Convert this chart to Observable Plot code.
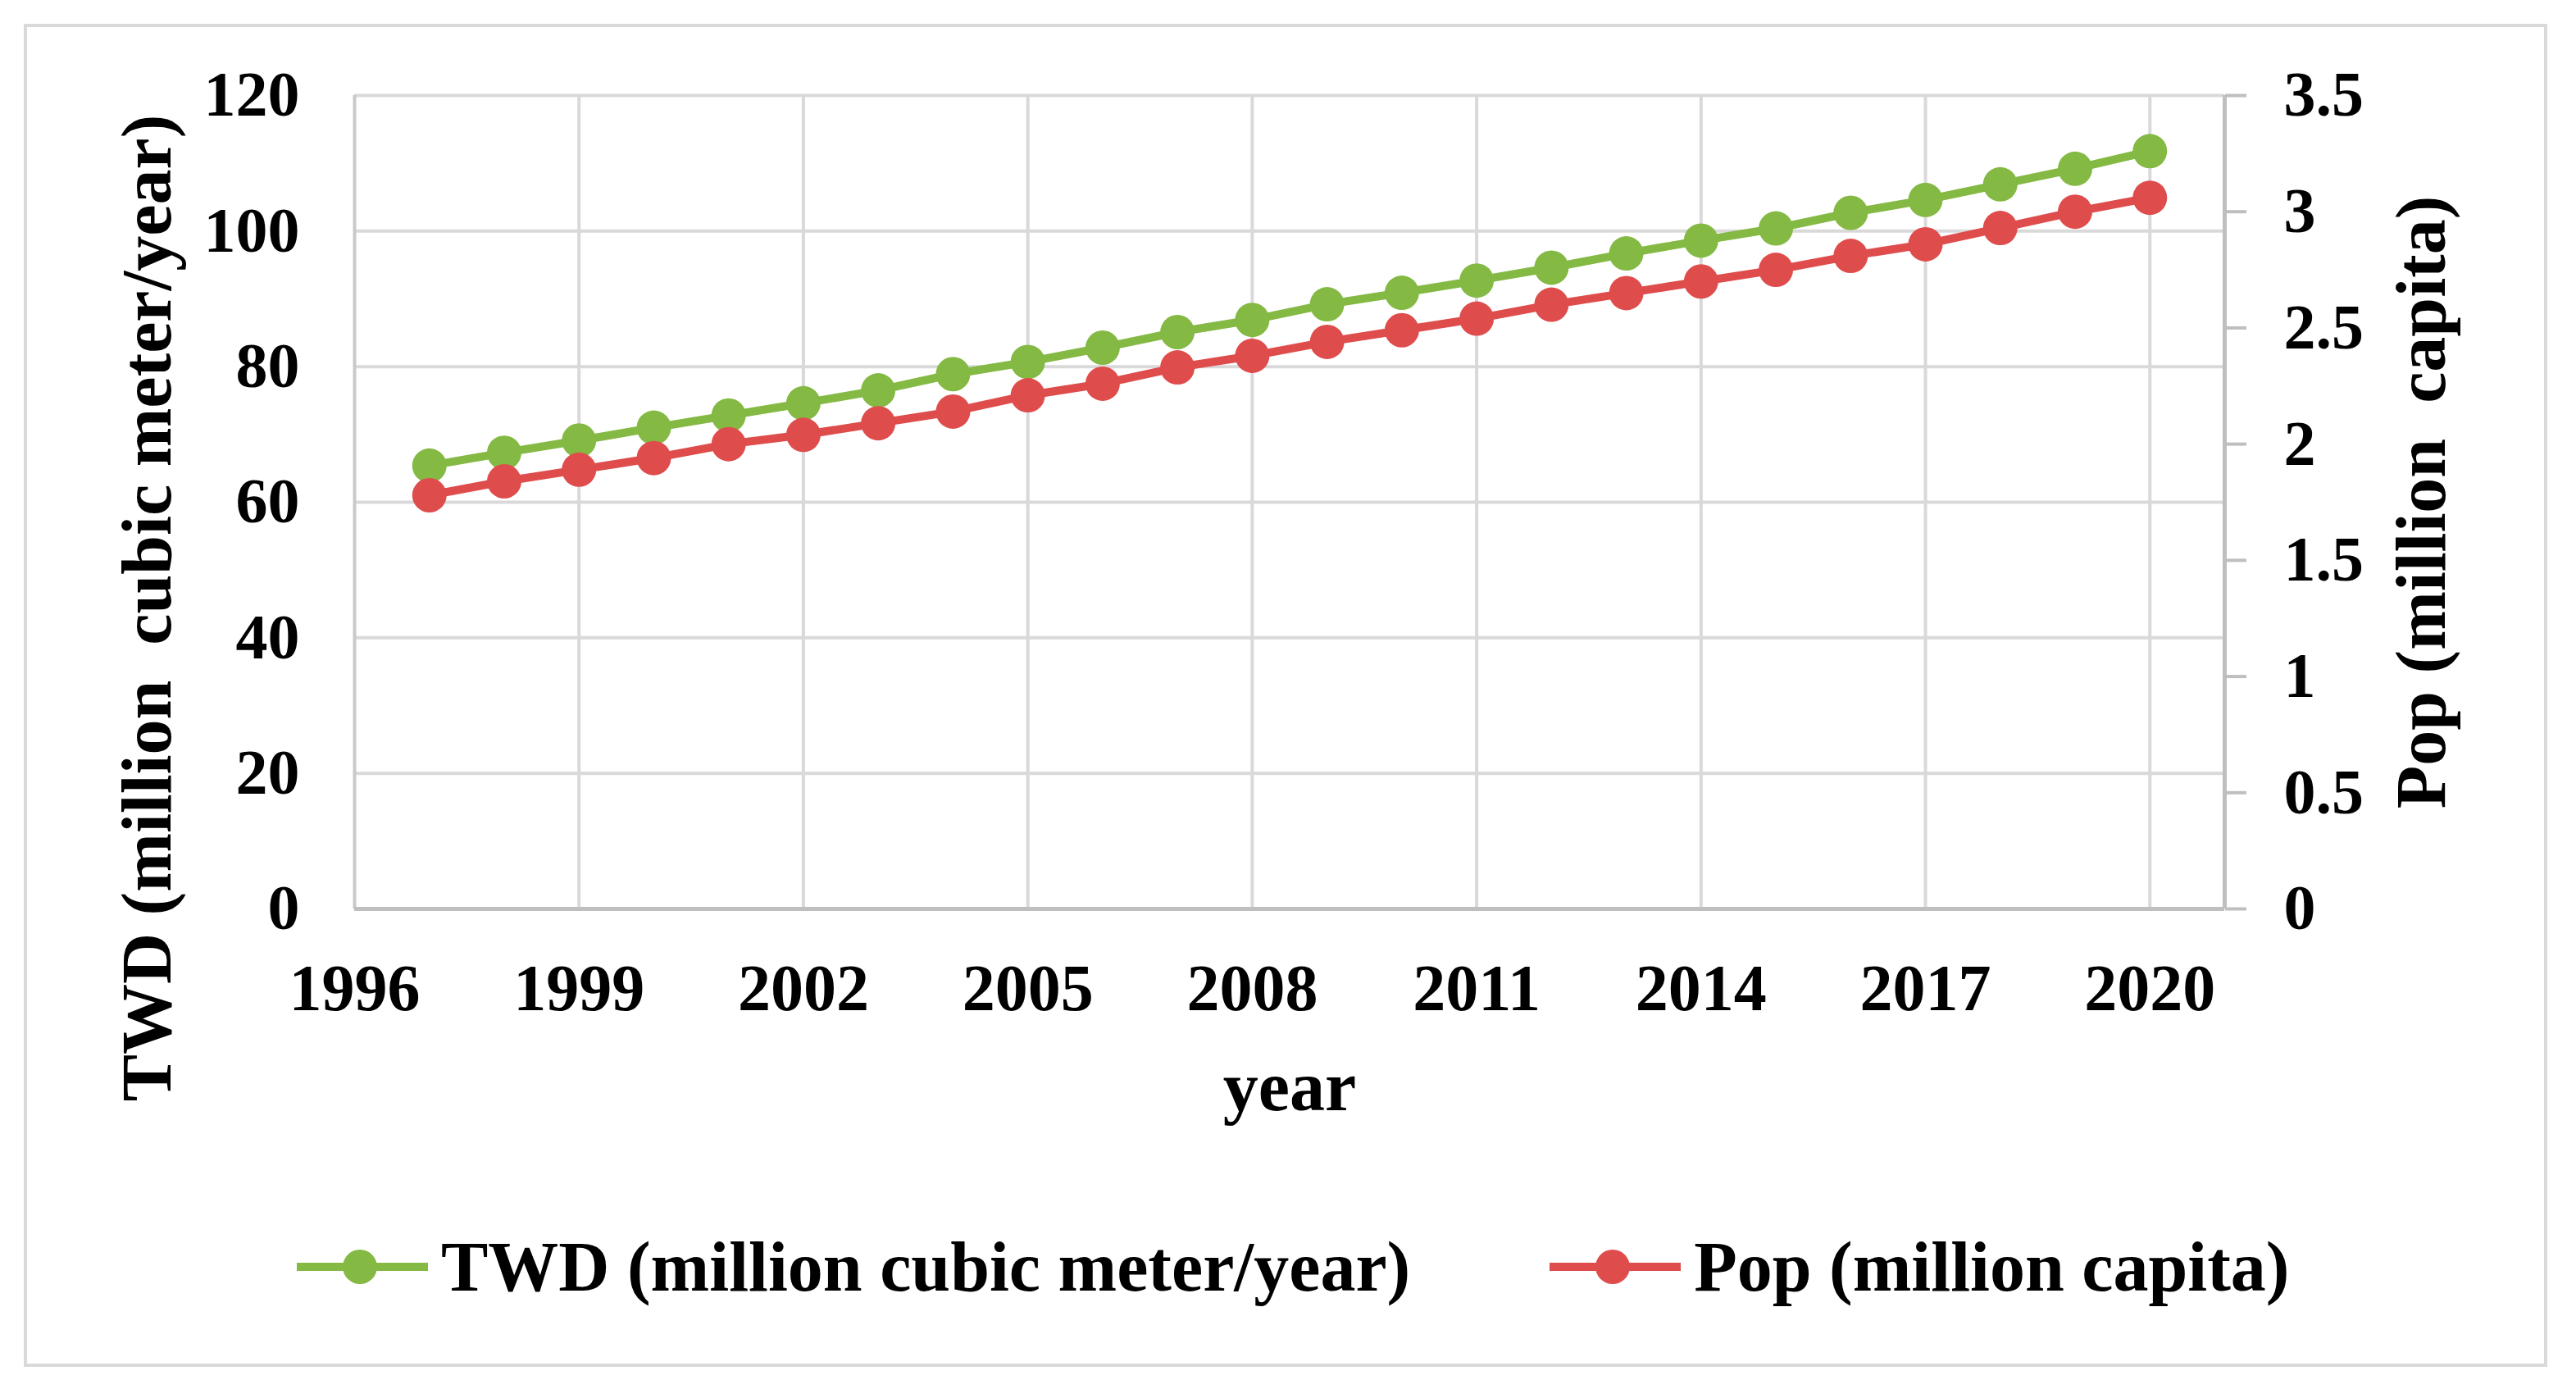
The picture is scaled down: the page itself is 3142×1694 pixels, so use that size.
<!DOCTYPE html>
<html>
<head>
<meta charset="utf-8">
<script src="https://cdn.jsdelivr.net/npm/d3@7"></script>
<script src="https://cdn.jsdelivr.net/npm/@observablehq/plot@0.6"></script>
<style>
  html, body { margin: 0; padding: 0; background: #fff; }
  #page { position: relative; width: 3142px; height: 1694px; background: #fff; overflow: hidden;
          font-family: "Liberation Serif", "Times New Roman", serif; font-weight: bold; color: #000; }
  #frame { position: absolute; left: 29px; top: 29px; width: 3070px; height: 1630px; border: 4px solid #d9d9d9; box-sizing: content-box; }
  #chart { position: absolute; left: 0; top: 0; }
  #legend { position: absolute; left: 362px; top: 1495px; height: 100px; display: flex; align-items: center; font-size: 86px; white-space: nowrap; }
  #legend .item { display: flex; align-items: center; }
  #legend .item + .item { margin-left: 170px; }
  #legend .label { margin-left: 16px; line-height: 100px; }
</style>
</head>
<body>
<div id="page">
  <div id="frame"></div>
  <div id="chart"></div>
  <div id="legend"></div>
</div>
<script>
// ---- data ----
const years = [1997, 1998, 1999, 2000, 2001, 2002, 2003, 2004, 2005, 2006, 2007, 2008,
               2009, 2010, 2011, 2012, 2013, 2014, 2015, 2016, 2017, 2018, 2019, 2020];
const twd = [65.4, 67.3, 69.1, 71.0, 72.8, 74.6, 76.5, 78.9, 80.7, 82.8, 85.1, 86.9,
             89.2, 90.9, 92.7, 94.6, 96.7, 98.6, 100.4, 102.7, 104.6, 106.9, 109.2, 111.8];
const pop = [1.78, 1.84, 1.89, 1.94, 2.00, 2.04, 2.09, 2.14, 2.21, 2.26, 2.33, 2.38,
             2.44, 2.49, 2.54, 2.60, 2.65, 2.70, 2.75, 2.81, 2.86, 2.93, 3.00, 3.06];
const xTicks = [1996, 1999, 2002, 2005, 2008, 2011, 2014, 2017, 2020];
const leftTicks = [0, 20, 40, 60, 80, 100, 120];
const rightTicks = [0, 0.5, 1, 1.5, 2, 2.5, 3, 3.5];
const seriesNames = ["TWD (million cubic meter/year)", "Pop (million capita)"];
const leftTitle = "TWD (million\u00A0 cubic meter/year)";
const rightTitle = "Pop (million\u00A0 capita)";
const xTitle = "year";

const green = "#84b944";
const red = "#df4c4c";
const k = 120 / 3.5; // right axis (0–3.5) mapped onto left axis (0–120)

const data = years.map((y, i) => ({year: y, twd: twd[i], pop: pop[i]}));

const chart = Plot.plot({
  width: 3142,
  height: 1400,
  marginLeft: 432,
  marginRight: 429,
  marginTop: 116,
  marginBottom: 292,
  style: {
    fontFamily: "'Liberation Serif', 'Times New Roman', serif",
    fontWeight: "bold",
    fontSize: "78px",
    color: "#000",
    background: "transparent",
    overflow: "visible"
  },
  x: {domain: [1996, 2021]},
  y: {domain: [0, 120]},
  marks: [
    Plot.gridY(leftTicks.filter(d => d > 0), {stroke: "#d9d9d9", strokeWidth: 4, strokeOpacity: 1}),
    Plot.gridX(xTicks.filter(d => d > 1996), {stroke: "#d9d9d9", strokeWidth: 4, strokeOpacity: 1}),
    Plot.ruleX([1996], {stroke: "#c9c9c9", strokeWidth: 4}),
    Plot.ruleX([2021], {stroke: "#bfbfbf", strokeWidth: 5}),
    Plot.ruleY([0], {stroke: "#bfbfbf", strokeWidth: 5}),
    Plot.axisY(leftTicks, {anchor: "left", tickSize: 0, tickPadding: 67, fontSize: 78, fill: "#000", label: null}),
    Plot.axisY(rightTicks.map(v => v * k), {
      anchor: "right", tickSize: 26, tickPadding: 46, fontSize: 78,
      stroke: "#bfbfbf", strokeWidth: 4, fill: "#000", label: null,
      tickFormat: d => d3.format("~g")(Math.round(d / k * 100) / 100)
    }),
    Plot.axisX(xTicks, {anchor: "bottom", tickSize: 0, tickPadding: 67, fontSize: 80, fill: "#000", label: null, tickFormat: d => String(d)}),
    Plot.line(data, {x: "year", y: "twd", stroke: green, strokeWidth: 10}),
    Plot.dot(data, {x: "year", y: "twd", r: 21, fill: green}),
    Plot.line(data, {x: "year", y: d => d.pop * k, stroke: red, strokeWidth: 10}),
    Plot.dot(data, {x: "year", y: d => d.pop * k, r: 21, fill: red}),
    Plot.text([leftTitle], {frameAnchor: "left", textAnchor: "middle", lineAnchor: "middle", rotate: -90, dx: -252, dy: 129, fontSize: 86, fill: "#000"}),
    Plot.text([rightTitle], {frameAnchor: "right", textAnchor: "middle", lineAnchor: "middle", rotate: -90, dx: 241, dy: 0, fontSize: 86, fill: "#000"}),
    Plot.text([xTitle], {frameAnchor: "bottom", textAnchor: "middle", lineAnchor: "middle", dy: 218, fontSize: 86, fill: "#000"})
  ]
});
document.getElementById("chart").appendChild(chart);

// ---- legend ----
const legend = document.getElementById("legend");
[[seriesNames[0], green], [seriesNames[1], red]].forEach(([name, color]) => {
  const item = document.createElement("div");
  item.className = "item";
  item.innerHTML =
    `<svg width="160" height="100" viewBox="0 0 160 100">
       <line x1="0" y1="50" x2="160" y2="50" stroke="${color}" stroke-width="10" stroke-linecap="round"/>
       <circle cx="77" cy="50" r="21" fill="${color}"/>
     </svg><span class="label">${name}</span>`;
  legend.appendChild(item);
});
</script>
</body>
</html>
